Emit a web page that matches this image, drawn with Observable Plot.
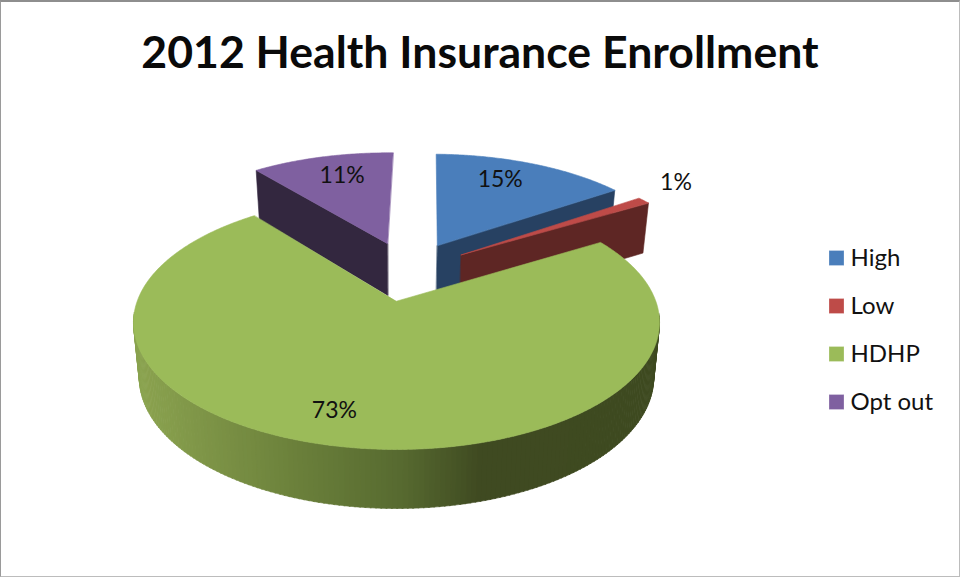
<!DOCTYPE html>
<html>
<head>
<meta charset="utf-8">
<title>2012 Health Insurance Enrollment</title>
<script src="https://cdn.jsdelivr.net/npm/d3@7"></script>
<script src="https://cdn.jsdelivr.net/npm/@observablehq/plot@0.6"></script>
<style>
  html, body { margin: 0; padding: 0; background: #fff; }
  #chart { position: relative; width: 960px; height: 577px; overflow: hidden; background: #fff; }
  #chart h1 {
    margin: 0; height: 100px; text-align: center;
    font: 700 44.6px/102px Lato, sans-serif; color: #0a0a0a;
  }
  #chart svg { display: block; background: transparent; }
  #edge {
    position: absolute; inset: 0; pointer-events: none; box-sizing: border-box;
    border-style: solid; border-width: 2px 1px 1px 1px;
    border-color: #8e8e8e #bcbcbc #bcbcbc #9a9a9a;
  }
</style>
</head>
<body>
<div id="chart">
  <h1>2012 Health Insurance Enrollment</h1>
  <div id="edge"></div>
</div>
<script>
// Enrollment shares
const categories = ["High", "Low", "HDHP", "Opt out"];
const shares = [15, 1, 73, 11];

// Surface colours and the darker colours of the cut faces
const topColors = ["#4a7ebb", "#be4b48", "#9bbb59", "#7f60a0"];
const wallColors = ["#274162", "#5e2624", "#3e4a20", "#33273f"];

// Label placement: bearing (degrees clockwise from the back) and reach (in radii)
const labelBearings = [24, 53.9, 195.1, 343.3];
const labelReaches = [0.76, 1.26, 0.8, 0.75];

// Shading of the curved rim, by horizontal position
const rimStops = [140, 300, 400, 480, 660];
const rimShades = ["#8aa24f", "#6a7f3a", "#576a30", "#3f4a21", "#3e4a20"];
const rimShade = d3.scaleLinear().domain(rimStops).range(rimShades).clamp(true);

// Camera: perspective projection of the disc on to the page
const cam = {cx: 396, cy: 300.7, a: 259.3, b: 123.4, k: 0.1677, drop: 54, dropK: 0.085, shrink: 0.978};
const firstBearing = 1.2;
const explode = 0.262;

const rad = (deg) => deg * Math.PI / 180;
const heading = (deg) => [Math.sin(rad(deg)), -Math.cos(rad(deg))];

// Turn the shares into bearing ranges
const total = d3.sum(shares);
let running = firstBearing;
const slices = categories.map((name, i) => {
  const start = running;
  running += shares[i] / total * 360;
  return {name, i, share: shares[i], start, end: running, mid: (start + running) / 2};
});

// The largest slice stays at the reference point; others move away from it
const anchor = heading(d3.greatest(slices, (s) => s.share).mid);
slices.forEach((s) => {
  const h = heading(s.mid);
  s.origin = [explode * (h[0] - anchor[0]), explode * (h[1] - anchor[1])];
});

const projectTop = ([u, v]) => {
  const w = 1 - cam.k * v;
  return [cam.cx + cam.a * u / w, cam.cy + cam.b * v / w];
};
const projectBase = ([u, v]) => {
  const w = 1 - cam.k * v;
  return [
    cam.cx + cam.shrink * cam.a * u / w,
    cam.cy + cam.b * v / w + cam.drop / (1 - cam.dropK * v)
  ];
};
const onDisc = (s, bearing, r = 1) => {
  const h = heading(bearing);
  return [s.origin[0] + r * h[0], s.origin[1] + r * h[1]];
};

// Polygon table, in painting order
const polygons = [];
const addPolygon = (pts, fill) => {
  const id = polygons.length ? polygons[polygons.length - 1].id + 1 : 0;
  pts.forEach(([x, y]) => polygons.push({id, x, y, fill}));
};
const paintOrder = [3, 0, 1, 2];
for (const i of paintOrder) {
  const s = slices[i];
  const span = s.end - s.start;
  if (span < 180) {
    const face = s.end < 180 ? s.end : s.start;
    addPolygon([
      projectTop(s.origin),
      projectTop(onDisc(s, face)),
      projectBase(onDisc(s, face)),
      projectBase(s.origin)
    ], wallColors[i]);
  } else {
    // curved rim, built from narrow strips so the shade can change along it;
    // only the part facing the viewer is needed
    for (let b = s.start; b < s.end; b += 1) {
      if (onDisc(s, b)[1] < 0.1) continue;
      const b2 = Math.min(b + 1.2, s.end);
      const a = projectTop(onDisc(s, b));
      const c = projectTop(onDisc(s, b2));
      const d = projectBase(onDisc(s, b2));
      const e = projectBase(onDisc(s, b));
      addPolygon([a, c, d, e], rimShade((a[0] + c[0]) / 2));
    }
  }
  const arc = d3.range(s.start, s.end, 0.5).concat(s.end).map((b) => projectTop(onDisc(s, b)));
  addPolygon([projectTop(s.origin), ...arc], topColors[i]);
}

// Percent labels
const labels = slices.map((s) => {
  const [x, y] = projectTop(onDisc(s, labelBearings[s.i], labelReaches[s.i]));
  return {x, y, text: `${s.share}%`};
});

// Legend rows
const legendX = 829, legendTop = 258, legendGap = 48, swatch = 15;
const legendRows = categories.map((name, i) => ({name, color: topColors[i], y: legendTop + i * legendGap}));

const plot = Plot.plot({
  width: 960,
  height: 477,
  margin: 0,
  style: {background: "transparent", fontFamily: "Lato, sans-serif"},
  x: {domain: [0, 960], range: [0, 960], axis: null},
  y: {domain: [100, 577], range: [0, 477], axis: null},
  marks: [
    Plot.line(polygons, {
      x: "x", y: "y", z: "id", curve: "linear-closed",
      fill: (d) => d.fill, stroke: (d) => d.fill, strokeWidth: 0.6
    }),
    Plot.text(labels, {
      x: "x", y: "y", text: "text", fontSize: 23, fill: "#111", textAnchor: "middle", lineAnchor: "middle"
    }),
    Plot.rect(legendRows, {
      x1: () => legendX, x2: () => legendX + swatch,
      y1: (d) => d.y - swatch / 2, y2: (d) => d.y + swatch / 2,
      fill: (d) => d.color, stroke: "#fff", strokeOpacity: 0.25
    }),
    Plot.text(legendRows, {
      x: () => legendX + swatch + 6, y: "y", text: "name", fontSize: 24, fill: "#111",
      textAnchor: "start", lineAnchor: "middle"
    })
  ]
});
document.getElementById("chart").insertBefore(plot, document.getElementById("edge"));
</script>
</body>
</html>
